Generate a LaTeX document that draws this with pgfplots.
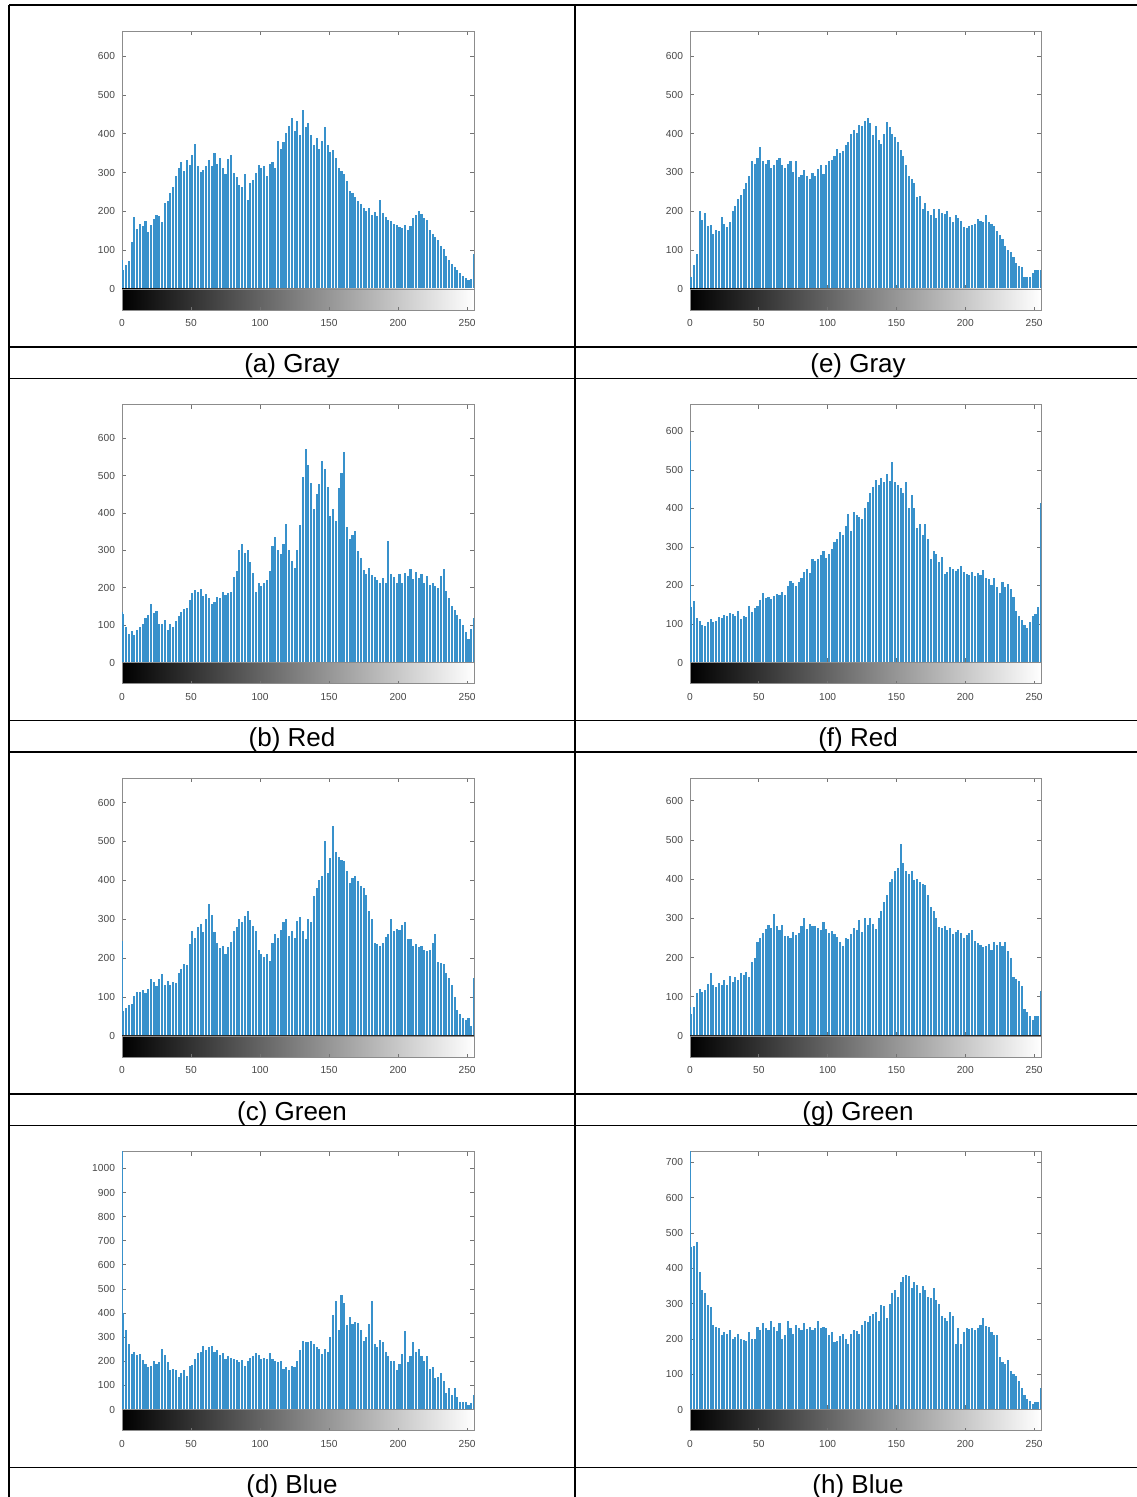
\documentclass[border=0pt]{standalone}
\usepackage{pgfplots}
\pgfplotsset{compat=1.18}
\usepackage{pgfplotstable}
\usepackage{fontspec}
\setmainfont{Liberation Sans}
\definecolor{mblue}{rgb}{0,0.447,0.741}

% histogram counts at grey levels 1,3,5,...,255 (the level 0 bin is given apart)
\pgfplotstableread[row sep=\\]{y\\
50\\62\\72\\120\\185\\155\\168\\162\\176\\146\\166\\180\\192\\188\\172\\222\\
228\\248\\262\\292\\312\\328\\305\\332\\320\\345\\375\\318\\302\\308\\318\\332\\
316\\350\\322\\338\\312\\296\\334\\345\\298\\288\\268\\262\\296\\230\\272\\282\\
300\\320\\312\\318\\292\\322\\328\\312\\382\\362\\378\\402\\420\\442\\408\\432\\
398\\462\\418\\428\\396\\372\\388\\362\\382\\418\\372\\352\\358\\338\\312\\304\\
296\\278\\252\\248\\236\\226\\218\\208\\202\\208\\192\\198\\188\\230\\196\\186\\
178\\176\\168\\164\\160\\158\\166\\152\\162\\182\\190\\200\\194\\182\\178\\152\\
142\\134\\126\\110\\102\\86\\76\\64\\56\\48\\40\\34\\28\\22\\26\\90\\
}\grayA
\pgfplotstableread[row sep=\\]{y\\
130\\95\\76\\84\\74\\86\\94\\102\\118\\126\\158\\132\\138\\102\\104\\114\\
86\\104\\96\\112\\124\\136\\142\\146\\168\\185\\195\\190\\196\\178\\184\\172\\
156\\162\\176\\172\\190\\182\\186\\190\\230\\246\\300\\318\\292\\300\\270\\240\\
190\\212\\206\\214\\222\\244\\312\\336\\302\\290\\318\\372\\302\\272\\254\\300\\
368\\498\\572\\530\\480\\412\\450\\478\\540\\518\\470\\392\\412\\378\\468\\508\\
565\\362\\330\\342\\352\\298\\280\\248\\236\\252\\234\\228\\222\\214\\226\\212\\
325\\236\\228\\212\\236\\212\\240\\232\\250\\224\\242\\226\\236\\214\\232\\208\\
214\\206\\200\\232\\250\\192\\172\\150\\140\\128\\116\\100\\82\\62\\90\\120\\
}\redA
\pgfplotstableread[row sep=\\]{y\\
65\\72\\80\\82\\104\\114\\112\\118\\110\\122\\146\\140\\128\\146\\160\\130\\
142\\130\\140\\136\\162\\172\\186\\182\\236\\270\\252\\280\\288\\266\\300\\340\\
310\\266\\240\\226\\232\\210\\228\\242\\270\\280\\300\\292\\308\\322\\298\\282\\
270\\222\\210\\204\\212\\192\\240\\262\\252\\272\\292\\300\\258\\270\\252\\296\\
305\\270\\250\\300\\292\\360\\380\\400\\412\\500\\420\\458\\540\\472\\460\\452\\
450\\424\\392\\406\\410\\398\\386\\380\\362\\320\\300\\240\\236\\232\\240\\254\\
262\\300\\270\\276\\272\\284\\292\\248\\248\\232\\236\\228\\232\\222\\218\\222\\
240\\262\\190\\188\\186\\162\\150\\130\\100\\68\\56\\45\\40\\45\\25\\150\\
}\greenA
\pgfplotstableread[row sep=\\]{y\\
400\\330\\270\\232\\240\\225\\230\\205\\190\\175\\180\\200\\190\\195\\250\\225\\
195\\165\\170\\165\\135\\150\\165\\140\\180\\185\\210\\235\\240\\265\\245\\260\\
265\\240\\245\\225\\235\\210\\220\\215\\210\\205\\195\\205\\180\\200\\215\\220\\
235\\225\\210\\212\\210\\235\\210\\200\\195\\200\\170\\175\\165\\180\\175\\200\\
245\\285\\280\\280\\285\\270\\260\\250\\230\\250\\240\\300\\390\\450\\330\\475\\
440\\350\\385\\355\\365\\360\\330\\285\\300\\355\\450\\270\\260\\290\\280\\240\\
220\\200\\200\\165\\190\\230\\325\\195\\220\\280\\240\\250\\220\\200\\220\\170\\
175\\130\\135\\150\\120\\70\\90\\60\\90\\50\\30\\30\\30\\20\\25\\60\\
}\blueA
\pgfplotstableread[row sep=\\]{y\\
30\\62\\90\\200\\178\\196\\162\\165\\142\\152\\150\\185\\168\\160\\172\\202\\
214\\232\\242\\258\\272\\292\\330\\322\\336\\365\\330\\322\\332\\312\\318\\332\\
338\\318\\312\\322\\330\\302\\330\\288\\294\\305\\290\\282\\298\\292\\310\\318\\
296\\318\\330\\332\\342\\360\\350\\356\\370\\378\\398\\410\\402\\422\\420\\432\\
440\\428\\396\\420\\384\\372\\400\\430\\418\\398\\390\\378\\358\\342\\320\\292\\
284\\272\\236\\240\\206\\222\\200\\190\\206\\182\\205\\196\\192\\200\\186\\172\\
190\\182\\176\\160\\158\\162\\164\\166\\180\\176\\172\\190\\172\\166\\162\\150\\
140\\128\\110\\100\\95\\82\\66\\60\\56\\30\\32\\30\\40\\50\\48\\50\\
}\grayB
\pgfplotstableread[row sep=\\]{y\\
145\\160\\116\\108\\98\\96\\104\\112\\104\\108\\118\\116\\124\\122\\128\\126\\
122\\134\\112\\122\\118\\148\\132\\142\\148\\162\\180\\168\\170\\164\\172\\178\\
175\\182\\176\\198\\212\\206\\198\\210\\220\\236\\242\\232\\270\\264\\270\\278\\
290\\272\\282\\296\\312\\322\\340\\330\\355\\385\\342\\390\\382\\378\\372\\400\\
416\\440\\456\\475\\462\\480\\470\\490\\472\\520\\470\\460\\452\\440\\470\\400\\
435\\400\\350\\360\\330\\360\\320\\270\\290\\282\\260\\275\\230\\236\\248\\242\\
238\\244\\250\\236\\230\\228\\236\\224\\232\\228\\240\\220\\218\\200\\220\\196\\
180\\210\\196\\204\\190\\170\\135\\122\\110\\98\\90\\104\\120\\126\\145\\415\\
}\redB
\pgfplotstableread[row sep=\\]{y\\
55\\75\\110\\120\\112\\118\\132\\160\\130\\125\\134\\130\\142\\130\\152\\138\\
150\\142\\160\\156\\162\\150\\190\\200\\240\\250\\262\\272\\282\\276\\310\\280\\
270\\282\\256\\255\\250\\266\\258\\262\\280\\300\\272\\285\\280\\280\\276\\270\\
290\\274\\262\\268\\260\\252\\240\\230\\250\\248\\260\\276\\270\\296\\265\\300\\
282\\300\\285\\272\\300\\320\\342\\360\\392\\400\\420\\428\\490\\440\\420\\412\\
420\\398\\400\\392\\388\\385\\360\\330\\320\\300\\278\\275\\280\\270\\275\\260\\
265\\270\\262\\250\\258\\262\\270\\242\\236\\232\\228\\230\\235\\220\\240\\232\\
240\\230\\240\\218\\200\\150\\145\\140\\128\\70\\60\\50\\42\\50\\50\\115\\
}\greenB
\pgfplotstableread[row sep=\\]{y\\
460\\462\\475\\390\\340\\330\\295\\290\\240\\235\\230\\210\\220\\215\\225\\200\\
205\\215\\200\\198\\195\\220\\200\\200\\235\\225\\245\\230\\225\\250\\235\\222\\
245\\200\\210\\252\\230\\215\\240\\232\\225\\245\\228\\235\\225\\232\\250\\230\\
235\\230\\210\\220\\190\\195\\208\\215\\200\\185\\215\\226\\222\\215\\240\\250\\
248\\265\\272\\275\\252\\295\\292\\260\\298\\330\\340\\318\\362\\375\\380\\378\\
345\\360\\352\\330\\350\\340\\320\\315\\345\\310\\300\\265\\260\\250\\275\\265\\
185\\230\\185\\220\\230\\228\\232\\225\\230\\240\\260\\236\\235\\220\\210\\210\\
150\\135\\130\\140\\110\\100\\95\\80\\60\\40\\30\\25\\15\\20\\20\\60\\
}\blueB

\pgfplotsset{
  ticklbl/.style={font=\fontsize{5.1}{6}\selectfont, text=black!72},
  hist/.style={
    scale only axis, height=129pt, anchor=south west,
    xmin=0, xmax=255, ymin=0,
    xtick={0,50,...,250}, xticklabels={}, ytick distance=100,
    tick align=inside, major tick length=2.2pt,
    xtick pos=both, ytick pos=both, yticklabel pos=left,
    axis line style={black!45, line width=0.35pt},
    every tick/.style={black!55, line width=0.35pt},
    tick label style={ticklbl},
    /pgf/number format/assume math mode=true,
    /pgf/number format/1000 sep={},
    scaled y ticks=false,
  },
  cbar/.style={
    scale only axis, height=10.5pt, anchor=north west,
    xmin=0, xmax=255, ymin=0, ymax=1, ytick=\empty,
    xtick={0,50,...,250}, xtick pos=bottom,
    tick align=inside, major tick length=1.5pt,
    axis line style={black!45, line width=0.35pt},
    every tick/.style={black!55, line width=0.35pt},
    tick label style={ticklbl},
    xticklabel style={yshift=-1.2pt},
    /pgf/number format/assume math mode=true,
    axis background/.style={left color=black, right color=white},
  },
  bars/.style={ycomb, mblue!78!white, line width=1.05pt, mark=none},
}

% #1 x, #2 y of the zero line, #3 width, #4 ymax, #5 table, #6 count at level 0
\newcommand\cell[6]{%
  \begin{axis}[hist, at={(#1,#2)}, width=#3, ymax=#4]
    \addplot[bars] table[x expr=2*\coordindex+1, y=y] {#5};
    \addplot[bars] coordinates {(0,#6)};
    \draw[black!85, line width=0.6pt] (rel axis cs:0,0) -- (rel axis cs:1,0);
  \end{axis}
  \begin{axis}[cbar, at={(#1,#2)}, width=#3]
  \end{axis}}

\begin{document}
\begin{tikzpicture}
\path[use as bounding box] (0,0) rectangle (568pt,-748.5pt);

% table rules
\begin{scope}[line width=0.7pt]
  \draw (4.5pt,-2.5pt) -- (4.5pt,-760pt);
  \draw (287.5pt,-2.5pt) -- (287.5pt,-760pt);
  \foreach \yy in {2.5,173.5,189.25,360.25,376,547,562.75,733.75}
    \draw (4.5pt,-\yy pt) -- (570pt,-\yy pt);
\end{scope}

\cell{61pt}{-144.5pt}{176pt}{665}{\grayA}{75}
\cell{345pt}{-144.5pt}{175.5pt}{664}{\grayB}{20}
\cell{61pt}{-331.25pt}{176pt}{691}{\redA}{135}
\cell{345pt}{-331.25pt}{175.5pt}{670}{\redB}{575}
\cell{61pt}{-518pt}{176pt}{663}{\greenA}{245}
\cell{345pt}{-518pt}{175.5pt}{658}{\greenB}{75}
\cell{61pt}{-704.75pt}{176pt}{1070}{\blueA}{1500}
\cell{345pt}{-704.75pt}{175.5pt}{731}{\blueB}{1000}

\begin{scope}[font=\fontsize{13}{15}\selectfont]
  \node[anchor=base] at (146pt,-186.5pt) {(a) Gray};
  \node[anchor=base] at (429pt,-186.5pt) {(e) Gray};
  \node[anchor=base] at (146pt,-373.25pt) {(b) Red};
  \node[anchor=base] at (429pt,-373.25pt) {(f) Red};
  \node[anchor=base] at (146pt,-560pt) {(c) Green};
  \node[anchor=base] at (429pt,-560pt) {(g) Green};
  \node[anchor=base] at (146pt,-746.75pt) {(d) Blue};
  \node[anchor=base] at (429pt,-746.75pt) {(h) Blue};
\end{scope}
\end{tikzpicture}
\end{document}
